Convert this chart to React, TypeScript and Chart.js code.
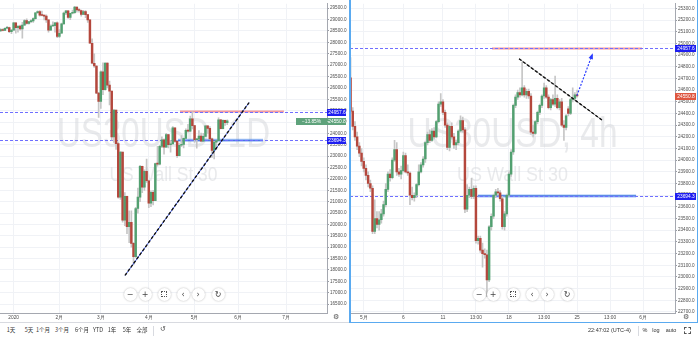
import React, { useEffect, useRef } from "react";
import { Chart, registerables } from "chart.js";

Chart.register(...registerables);
Chart.defaults.font.family = "'Liberation Sans', Arial, sans-serif";

// ---------- Daily (US30USD, 1D) ----------
const D_OPEN = [28500,28560,28520,28620,28650,28470,28540,28860,28640,28710,28590,28760,28960,28830,28910,28940,29040,29300,29350,29190,29180,29150,28990,28530,28720,28730,28860,28260,28400,28810,29290,29380,29100,29280,29300,29550,29420,29400,29230,29350,29220,28990,27960,27080,26960,25770,25400,26700,25920,27090,26120,25860,23850,25020,23550,21200,23180,20190,21240,19900,20090,19170,18590,20700,21200,22550,21640,22330,21920,20940,21410,21050,22680,22650,23430,23720,23390,23950,23500,23540,24240,23650,23020,23480,23520,23780,24130,24100,24640,24340,23720,23750,23880,23660,23870,24330,24220,23760,23250,23620,23680,24600,24210,24570,24470];
const D_HIGH = [28600,28590,28640,28700,28670,28560,28880,28870,28720,28760,28880,29000,29030,28920,29000,29080,29310,29380,29400,29370,29200,29210,28990,28770,28900,28880,28900,28560,28850,29330,29410,29400,29290,29420,29580,29560,29480,29420,29410,29400,29230,29000,28150,27500,26980,25800,26750,27100,27100,27100,26300,25860,25050,25020,23600,23200,23180,21400,21250,20600,20600,19200,20750,21600,22600,22560,22400,22870,21950,21480,21500,22700,23430,23480,23850,23760,24000,23960,23700,24300,24250,23680,23550,23900,23800,24200,24400,24760,24960,24350,23780,24120,24010,24000,24340,24340,24300,23800,23650,23700,24680,24620,24600,24580,24600];
const D_LOW = [28480,28500,28510,28590,28420,28380,28520,28400,28450,28540,28180,28740,28800,28800,28860,28880,29020,29270,29150,29160,28990,28870,28450,28520,28700,28450,28200,28200,28390,28800,29220,29050,29000,29250,29270,29330,29330,29150,29220,29080,28880,27950,27050,26900,25750,24700,25100,25700,25900,26000,25250,23700,23600,23300,21150,21100,20100,19950,19600,19200,19000,18220,18550,20500,21000,21400,21500,21850,20740,20780,20860,21050,22560,22620,23370,23090,23380,23360,23180,23540,23600,22940,23010,23420,23360,23770,24050,24080,24200,23600,23350,23730,23650,23650,23860,24000,23750,22950,22880,23300,23680,24200,24200,24350,24380];
const D_CLOSE = [28560,28520,28620,28650,28470,28540,28860,28640,28710,28590,28760,28960,28830,28910,28940,29040,29300,29350,29190,29180,29150,28990,28530,28720,28730,28860,28260,28400,28810,29290,29380,29100,29280,29300,29550,29420,29400,29230,29350,29220,28990,27960,27080,26960,25770,25400,26700,25920,27090,26120,25860,23850,25020,23550,21200,23180,20190,21240,19900,20090,19170,18590,20700,21200,22550,21640,22330,21920,20940,21410,21050,22680,22650,23430,23720,23390,23950,23500,23540,24240,23650,23020,23480,23520,23780,24130,24100,24640,24340,23720,23750,23880,23660,23870,24330,24220,23760,23250,23620,23680,24600,24210,24570,24470,24551];
const D_TICK_IDX = [6, 27, 46, 68, 89, 109, 131];
const D_TICK_LABELS = ["2020", "2月", "3月", "4月", "5月", "6月", "7月"];
const D_PRICE_TICKS = [16500,17000,17500,18000,18500,19000,19500,20000,20500,21000,21500,22000,22500,23000,23500,24000,24500,25000,25500,26000,26500,27000,27500,28000,28500,29000,29500];

// ---------- 4h (US30USD, 4h) ----------
const H_OPEN = [24705,24420,24290,24200,24120,24060,23990,23930,23870,23800,23760,23390,23500,23450,23490,23540,23620,23750,23880,23850,24000,24090,23900,23880,23910,24040,23900,23890,23700,23680,23700,23790,23900,23960,24010,24150,24220,24170,24250,24200,24330,24480,24500,24410,24300,24110,24290,24200,24130,24150,24250,24340,24260,23580,23700,23750,23690,23760,23310,23330,23230,23200,23190,22975,23430,23520,23700,23730,23720,23670,23430,23540,23700,23880,24070,24470,24540,24580,24560,24620,24560,24590,24550,24240,24230,24330,24410,24470,24550,24620,24540,24450,24520,24480,24530,24450,24500,24300,24280,24440,24400,24520,24530,24560];
const H_HIGH = [24880,24450,24330,24240,24150,24100,24020,23960,23900,23830,23780,23660,23560,23560,23580,23650,23800,23900,23920,24020,24170,24150,23930,23950,24070,24060,23960,23900,23770,23720,23800,23960,23980,24030,24160,24240,24260,24270,24280,24340,24500,24570,24520,24430,24320,24300,24320,24230,24170,24260,24380,24370,24280,23790,23770,23845,23780,23780,23350,23350,23290,23240,23230,23440,23540,23710,23750,23760,23740,23690,23560,23710,23900,24090,24480,24560,24600,24620,24840,24640,24610,24610,24570,24300,24340,24420,24480,24560,24660,24640,24560,24530,24560,24720,24560,24520,24530,24340,24390,24460,24530,24620,24580,24600];
const H_LOW = [24400,24260,24170,24090,24030,23950,23900,23830,23770,23730,23370,23370,23420,23400,23460,23520,23600,23730,23820,23840,23990,23870,23860,23840,23900,23890,23870,23620,23660,23650,23680,23780,23890,23940,23980,24130,24150,24160,24180,24190,24320,24460,24390,24280,24090,24080,24180,24100,24090,24130,24240,24240,23550,23560,23680,23670,23670,23290,23280,23210,23084,23160,22830,22960,23400,23500,23680,23700,23650,23410,23400,23520,23690,23860,24050,24450,24520,24540,24550,24540,24530,24530,24220,24200,24220,24310,24390,24450,24530,24530,24440,24430,24470,24460,24440,24430,24290,24170,24260,24380,24390,24500,24510,24540];
const H_CLOSE = [24420,24290,24200,24120,24060,23990,23930,23870,23800,23760,23390,23500,23450,23490,23540,23620,23750,23880,23850,24000,24090,23900,23880,23910,24040,23900,23890,23700,23680,23700,23790,23900,23960,24010,24150,24220,24170,24250,24200,24330,24480,24500,24410,24300,24110,24290,24200,24130,24150,24250,24340,24260,23580,23700,23750,23690,23760,23310,23330,23230,23200,23190,22975,23430,23520,23700,23730,23720,23670,23430,23540,23700,23880,24070,24470,24540,24580,24560,24620,24560,24590,24550,24240,24230,24330,24410,24470,24550,24620,24540,24450,24520,24480,24530,24450,24500,24300,24280,24380,24400,24520,24530,24560,24551];
const H_TICK_IDX = [6, 24, 42, 57, 72, 88, 103, 118, 133];
const H_TICK_LABELS = ["5月", "6", "11", "13:00", "18", "13:00", "25", "13:00", "6月"];
const H_PRICE_TICKS = [22700,22800,22900,23000,23100,23200,23300,23400,23500,23600,23700,23800,23900,24000,24100,24200,24300,24400,24500,24600,24700,24800,24900,25000,25100,25200,25300];

// ---------- Levels / drawings ----------
const LEVEL_HIGH = 24957.6;
const LEVEL_LOW = 23694.3;
const LAST_PRICE = 24550.8;
const CHANGE_TEXT = "−13.85%";
const D_TREND = [[57.1, 17760], [114, 25355]];
const D_RED_SEG = [82.3, 130];
const D_BLUE_SEG = [81.4, 120.4];
const H_TREND = [[76.6, 24869], [114.3, 24344]];
const H_ARROW = [[102.9, 24553], [109.8, 24900]];
const H_RED_SEG = [64.3, 132.5];
const H_BLUE_SEG = [57.9, 129.8];

const UP = "#52a070";
const DOWN = "#b4473c";
const WICK = "#c6c6c6";
const GRID = "#f0f2f6";
const AXIS = "#a5a8b0";
const LEVEL = "#6f6fff";
const BLUE_LBL = "#1e1ef0";
const RED_LBL = "#de5640";
const GREEN_LBL = "#5ea27b";

function drawScaled(ctx: CanvasRenderingContext2D, text: string, font: string, cx: number, base: number, targetW: number) {
  ctx.font = font;
  const w = ctx.measureText(text).width;
  ctx.save();
  ctx.translate(cx, base);
  ctx.scale(targetW / w, 1);
  ctx.textAlign = "center";
  ctx.textBaseline = "alphabetic";
  ctx.fillText(text, 0, 0);
  ctx.restore();
}

function makeCandles(canvas: HTMLCanvasElement, p: any) {
  const n = p.open.length;
  const idx = Array.from({ length: n }, (_, i) => i);
  const wick = idx.map((i) => ({ x: i, y: [p.low[i], p.high[i]] }));
  const body = idx.map((i) => ({ x: i, y: [p.open[i], p.close[i]] }));
  const colors = idx.map((i) => (p.close[i] >= p.open[i] ? UP : DOWN));

  const overlay = {
    id: "overlay",
    beforeDatasetsDraw(chart: any) {
      const { ctx, chartArea: a, scales } = chart;
      const x = scales.x, y = scales.y;
      ctx.save();
      ctx.beginPath();
      ctx.rect(a.left, a.top, a.right - a.left, a.bottom - a.top);
      ctx.clip();
      ctx.fillStyle = "rgba(212,213,217,0.5)";
      const cx = (a.left + a.right) / 2;
      drawScaled(ctx, p.wm, "42px 'Liberation Sans'", cx, 147, p.wmW);
      drawScaled(ctx, "US Wall St 30", "21px 'Liberation Sans'", cx, 181, p.subW);
      // red segment
      ctx.setLineDash([]);
      ctx.strokeStyle = "rgba(240,120,125,0.75)";
      ctx.lineWidth = 2;
      let yy = y.getPixelForValue(LEVEL_HIGH);
      ctx.beginPath();
      ctx.moveTo(x.getPixelForValue(p.redSeg[0]), yy);
      ctx.lineTo(x.getPixelForValue(p.redSeg[1]), yy);
      ctx.stroke();
      // blue segment
      yy = y.getPixelForValue(LEVEL_LOW);
      ctx.strokeStyle = "rgba(80,140,235,0.55)";
      ctx.lineWidth = 3;
      ctx.beginPath();
      ctx.moveTo(x.getPixelForValue(p.blueSeg[0]), yy);
      ctx.lineTo(x.getPixelForValue(p.blueSeg[1]), yy);
      ctx.stroke();
      ctx.strokeStyle = "#3a6fe0";
      ctx.lineWidth = 1;
      ctx.beginPath();
      ctx.moveTo(x.getPixelForValue(p.blueSeg[0]), yy);
      ctx.lineTo(x.getPixelForValue(p.blueSeg[1]), yy);
      ctx.stroke();
      // dashed levels
      ctx.strokeStyle = LEVEL;
      ctx.lineWidth = 1;
      ctx.setLineDash([3, 2]);
      for (const lv of [LEVEL_HIGH, LEVEL_LOW]) {
        const ly = Math.round(y.getPixelForValue(lv)) + 0.5;
        ctx.beginPath();
        ctx.moveTo(a.left, ly);
        ctx.lineTo(a.right, ly);
        ctx.stroke();
      }
      ctx.restore();
    },
    afterDatasetsDraw(chart: any) {
      const { ctx, chartArea: a, scales } = chart;
      const x = scales.x, y = scales.y;
      ctx.save();
      ctx.beginPath();
      ctx.rect(a.left, a.top, a.right - a.left, a.bottom - a.top);
      ctx.clip();
      const t = p.trend;
      const x0 = x.getPixelForValue(t[0][0]), y0 = y.getPixelForValue(t[0][1]);
      const x1 = x.getPixelForValue(t[1][0]), y1 = y.getPixelForValue(t[1][1]);
      ctx.strokeStyle = p.trendUnder;
      ctx.lineWidth = 1;
      ctx.setLineDash([]);
      ctx.beginPath(); ctx.moveTo(x0, y0); ctx.lineTo(x1, y1); ctx.stroke();
      ctx.strokeStyle = "#111";
      ctx.lineWidth = 1.4;
      ctx.setLineDash([3, 2]);
      ctx.beginPath(); ctx.moveTo(x0, y0); ctx.lineTo(x1, y1); ctx.stroke();
      if (p.arrow) {
        const ax0 = x.getPixelForValue(p.arrow[0][0]), ay0 = y.getPixelForValue(p.arrow[0][1]);
        const ax1 = x.getPixelForValue(p.arrow[1][0]), ay1 = y.getPixelForValue(p.arrow[1][1]);
        ctx.strokeStyle = "#2a3cff";
        ctx.lineWidth = 1.2;
        ctx.setLineDash([2, 1.5]);
        ctx.beginPath(); ctx.moveTo(ax0, ay0); ctx.lineTo(ax1, ay1); ctx.stroke();
        const ang = Math.atan2(ay1 - ay0, ax1 - ax0);
        ctx.setLineDash([]);
        ctx.fillStyle = "#2a3cff";
        ctx.beginPath();
        ctx.moveTo(ax1 + Math.cos(ang) * 2, ay1 + Math.sin(ang) * 2);
        ctx.lineTo(ax1 + Math.cos(ang + 2.6) * 4.5, ay1 + Math.sin(ang + 2.6) * 4.5);
        ctx.lineTo(ax1 + Math.cos(ang - 2.6) * 4.5, ay1 + Math.sin(ang - 2.6) * 4.5);
        ctx.closePath();
        ctx.fill();
      }
      ctx.restore();
    },
    afterDraw(chart: any) {
      const { ctx, chartArea: a, scales } = chart;
      const y = scales.y;
      ctx.save();
      ctx.font = "4.8px 'Liberation Sans'";
      ctx.textAlign = "center";
      ctx.textBaseline = "middle";
      for (const L of p.labels) {
        const ly = Math.round(y.getPixelForValue(L.price)) + 0.5;
        const left = L.prefix ? a.right - 31 : a.right;
        ctx.fillStyle = L.bg;
        ctx.fillRect(left, ly - 3.5, p.boxRight - left, 7);
        ctx.fillStyle = "#fff";
        ctx.fillText(L.price.toFixed(1), (a.right + p.boxRight) / 2 + 0.5, ly + 0.3);
        if (L.prefix) {
          ctx.fillText(L.prefix, a.right - 15.5, ly + 0.3);
          ctx.fillStyle = "rgba(255,255,255,0.8)";
          ctx.fillRect(a.right + 0.5, ly - 0.3, 1.5, 0.8);
        }
      }
      ctx.restore();
    },
  };

  return new Chart(canvas, {
    type: "bar",
    data: {
      datasets: [
        { data: body as any, backgroundColor: colors, barThickness: 1.8, grouped: false, order: 0, minBarLength: 1 } as any,
        { data: wick as any, backgroundColor: WICK, barThickness: 1, grouped: false, order: 1 } as any,
      ],
    },
    options: {
      animation: false,
      responsive: false,
      devicePixelRatio: 1,
      layout: { padding: 0 },
      plugins: { legend: { display: false }, tooltip: { enabled: false } },
      scales: {
        x: {
          type: "linear",
          min: p.xMin,
          max: p.xMax,
          offset: false,
          afterBuildTicks: (s: any) => { s.ticks = p.xTicks.map((v: number) => ({ value: v })); },
          afterFit: (s: any) => { s.height = 9; },
          ticks: {
            autoSkip: false,
            maxRotation: 0,
            padding: 2,
            color: "#4d4d4d",
            font: { size: 4.8 },
            callback: (v: any) => { const k = p.xTicks.indexOf(v); return k >= 0 ? p.xLabels[k] : ""; },
          },
          grid: { color: GRID, drawTicks: false, offset: false },
          border: { color: AXIS },
        },
        y: {
          position: "right",
          min: p.yMin,
          max: p.yMax,
          afterBuildTicks: (s: any) => { s.ticks = p.yTicks.map((v: number) => ({ value: v })); },
          afterFit: (s: any) => { s.width = p.axisW; },
          ticks: {
            autoSkip: false,
            padding: 1,
            color: "#4d4d4d",
            font: { size: 4.6 },
            callback: (v: any) => Number(v).toFixed(1),
          },
          grid: { color: GRID, tickColor: "#9a9da5", tickLength: 2 },
          border: { color: AXIS },
        },
      },
    } as any,
    plugins: [overlay],
  });
}

const LEFT_BTN_X = [130, 145, 164, 183, 198, 218];
const RIGHT_BTN_X = [479, 493, 513, 532, 547, 567];
const BTN_GLYPHS = ["−", "+", "fit", "‹", "›", "↻"];
const RANGE_BTNS = ["1天", "5天", "1个月", "3个月", "6个月", "YTD", "1年", "5年", "全部"];
const RANGE_X = [11, 29, 43, 62, 82, 98, 112, 127, 142];

function Buttons({ xs }: { xs: number[] }) {
  return (
    <>
      {xs.map((x, i) => (
        <div key={i} style={{ position: "absolute", left: x - 6.5, top: 287.5, width: 13, height: 13, borderRadius: 7, background: "#fff", boxShadow: "0 0 2px rgba(0,0,0,0.3)", display: "flex", alignItems: "center", justifyContent: "center", fontSize: 8, color: "#444", fontFamily: "'DejaVu Sans', sans-serif", zIndex: 3 }}>
          {BTN_GLYPHS[i] === "fit" ? (
            <div style={{ width: 4, height: 4, border: "1px dotted #555" }} />
          ) : (
            BTN_GLYPHS[i]
          )}
        </div>
      ))}
    </>
  );
}

export default function App() {
  const leftRef = useRef<HTMLCanvasElement>(null);
  const rightRef = useRef<HTMLCanvasElement>(null);

  useEffect(() => {
    const c1 = makeCandles(leftRef.current!, {
      open: D_OPEN, high: D_HIGH, low: D_LOW, close: D_CLOSE,
      xMin: -0.25, xMax: 149.75, yMin: 16111, yMax: 29695,
      xTicks: D_TICK_IDX, xLabels: D_TICK_LABELS, yTicks: D_PRICE_TICKS,
      axisW: 21, boxRight: 346,
      wm: "US30USD, 1D", wmW: 213, subW: 108,
      redSeg: D_RED_SEG, blueSeg: D_BLUE_SEG, trend: D_TREND, trendUnder: "#3a55e0", arrow: null,
      labels: [
        { price: LEVEL_HIGH, bg: BLUE_LBL },
        { price: LAST_PRICE, bg: GREEN_LBL, prefix: CHANGE_TEXT },
        { price: LEVEL_LOW, bg: BLUE_LBL },
      ],
    });
    const c2 = makeCandles(rightRef.current!, {
      open: H_OPEN, high: H_HIGH, low: H_LOW, close: H_CLOSE,
      xMin: -0.25, xMax: 147.5, yMin: 22691, yMax: 25340,
      xTicks: H_TICK_IDX, xLabels: H_TICK_LABELS, yTicks: H_PRICE_TICKS,
      axisW: 22, boxRight: 346,
      wm: "US30USD, 4h", wmW: 210, subW: 111,
      redSeg: H_RED_SEG, blueSeg: H_BLUE_SEG, trend: H_TREND, trendUnder: "#888", arrow: H_ARROW,
      labels: [
        { price: LEVEL_HIGH, bg: BLUE_LBL },
        { price: LAST_PRICE, bg: RED_LBL },
        { price: LEVEL_LOW, bg: BLUE_LBL },
      ],
    });
    return () => { c1.destroy(); c2.destroy(); };
  }, []);

  const small: React.CSSProperties = { position: "absolute", fontSize: 5.5, color: "#333", fontFamily: "'Noto Sans CJK SC', 'Liberation Sans', sans-serif", whiteSpace: "nowrap", lineHeight: "7px" };

  return (
    <div style={{ position: "fixed", left: 0, top: 0, width: 698, height: 339, background: "#fff", overflow: "hidden" }}>
      <canvas ref={leftRef} width={348} height={322} style={{ position: "absolute", left: 0, top: 0 }} />
      <canvas ref={rightRef} width={347} height={322} style={{ position: "absolute", left: 350, top: 0 }} />
      {/* right panel border */}
      <div style={{ position: "absolute", left: 349, top: 0, width: 1.5, height: 323, background: "#5aaaf0", zIndex: 4 }} />
      <div style={{ position: "absolute", left: 696.5, top: 0, width: 1.5, height: 323, background: "#5aaaf0", zIndex: 4 }} />
      <div style={{ position: "absolute", left: 349, top: 321.5, width: 349, height: 1.5, background: "#5aaaf0", zIndex: 4 }} />
      <div style={{ position: "absolute", left: 0, top: 322, width: 349, height: 1, background: "#d8dae0" }} />
      {/* gear icons */}
      <div style={{ ...small, left: 333, top: 314, fontSize: 7, color: "#555", fontFamily: "'DejaVu Sans'" }}>⚙</div>
      <div style={{ ...small, left: 683, top: 314, fontSize: 7, color: "#555", fontFamily: "'DejaVu Sans'" }}>⚙</div>
      <Buttons xs={LEFT_BTN_X} />
      <Buttons xs={RIGHT_BTN_X} />
      {/* bottom toolbar left */}
      {RANGE_BTNS.map((t, i) => (
        <div key={t} style={{ ...small, left: RANGE_X[i], top: 327, transform: "translateX(-50%)" }}>{t}</div>
      ))}
      <div style={{ position: "absolute", left: 153, top: 326, width: 1, height: 10, background: "#d8dae0" }} />
      <div style={{ ...small, left: 160, top: 326, fontSize: 7, fontFamily: "'DejaVu Sans'", color: "#444" }}>↺</div>
      {/* bottom toolbar right */}
      <div style={{ ...small, left: 588, top: 327, fontFamily: "'Liberation Sans'" }}>22:47:02 (UTC-4)</div>
      <div style={{ position: "absolute", left: 638, top: 326, width: 1, height: 10, background: "#d8dae0" }} />
      <div style={{ ...small, left: 645, top: 327, transform: "translateX(-50%)", fontFamily: "'Liberation Sans'" }}>%</div>
      <div style={{ ...small, left: 656, top: 327, transform: "translateX(-50%)", fontFamily: "'Liberation Sans'" }}>log</div>
      <div style={{ ...small, left: 671, top: 327, transform: "translateX(-50%)", fontFamily: "'Liberation Sans'" }}>auto</div>
      <div style={{ position: "absolute", left: 684, top: 327, width: 5, height: 5, border: "1px dashed #555" }} />
    </div>
  );
}
